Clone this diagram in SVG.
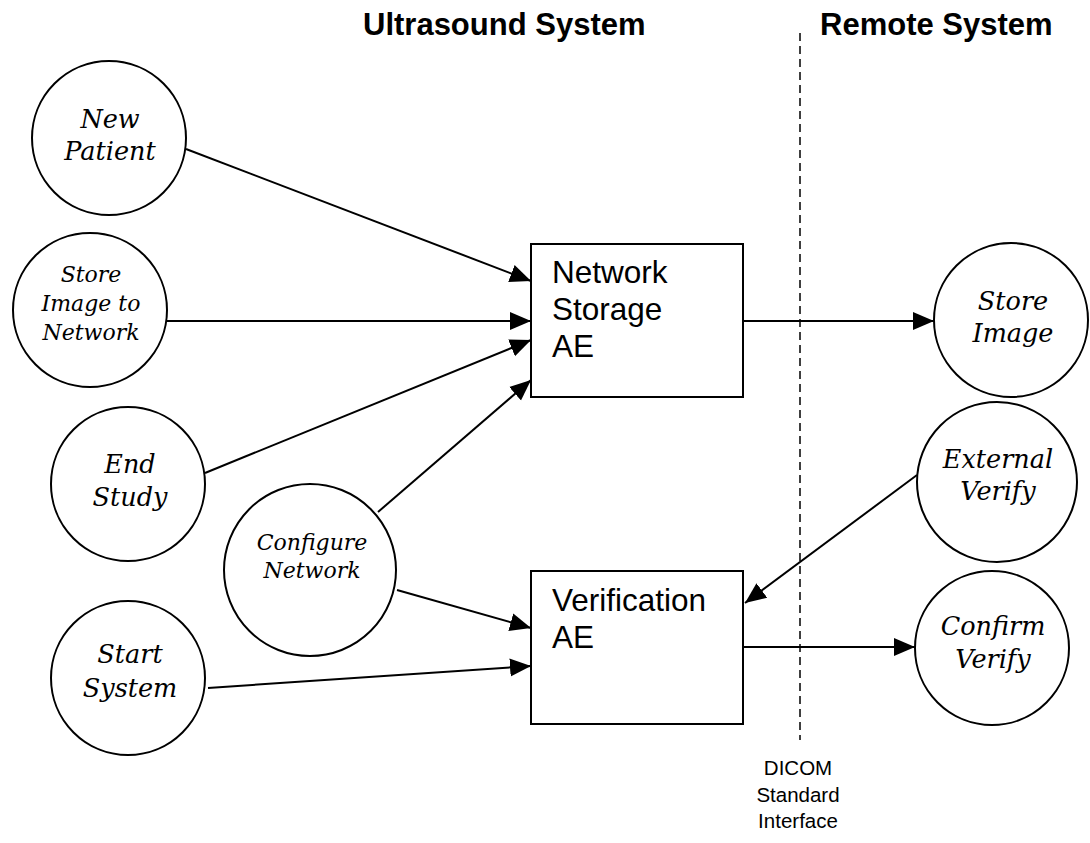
<svg xmlns="http://www.w3.org/2000/svg" width="1090" height="843" viewBox="0 0 1090 843">
<style>
.c{fill:#fff;stroke:#000;stroke-width:2}
.b{fill:#fff;stroke:#000;stroke-width:2}
.ct{font-family:"DejaVu Serif",serif;font-style:italic;fill:#000;text-anchor:middle;font-size:25.5px}
.cs{font-size:22px}
.bt{font-family:"Liberation Sans",Arial,sans-serif;font-size:31.5px;fill:#000}
.h{font-family:"Liberation Sans",Arial,sans-serif;font-size:31px;font-weight:bold;fill:#000}
.e{stroke:#000;stroke-width:2;fill:none;marker-end:url(#ah)}
.d{font-family:"Liberation Sans",Arial,sans-serif;font-size:20.5px;fill:#000;text-anchor:middle}
</style>
<defs>
<marker id="ah" markerUnits="userSpaceOnUse" markerWidth="22" markerHeight="20" refX="21" refY="9" orient="auto" viewBox="0 0 22 18">
<path d="M0,0 L21,9 L0,18 z" fill="#000"/>
</marker>
</defs>
<rect width="1090" height="843" fill="#fff"/>
<text class="h" x="363" y="35">Ultrasound System</text>
<text class="h" x="820" y="35">Remote System</text>
<line x1="800" y1="33" x2="800" y2="740" stroke="#000" stroke-width="1.5" stroke-dasharray="8,5"/>
<g id="dicom-label">
<text class="d" x="798" y="775">DICOM</text>
<text class="d" x="798" y="802">Standard</text>
<text class="d" x="798" y="828">Interface</text>
</g>
<g id="connectors">
<line class="e" x1="186" y1="149" x2="531" y2="281"/>
<line class="e" x1="167" y1="321" x2="531" y2="321"/>
<line class="e" x1="205" y1="473" x2="531" y2="340"/>
<line class="e" x1="378" y1="512" x2="531" y2="380"/>
<line class="e" x1="397" y1="590" x2="531" y2="628"/>
<line class="e" x1="208" y1="688" x2="531" y2="666"/>
<line class="e" x1="743" y1="321" x2="934" y2="321"/>
<line class="e" x1="917" y1="475" x2="745" y2="603"/>
<line class="e" x1="743" y1="647" x2="915" y2="647"/>
</g>
<g id="new-patient"><circle class="c" cx="109" cy="138" r="77"/><text class="ct" x="110" y="128">New</text><text class="ct" x="110" y="160">Patient</text></g>
<g id="store-image-to-network"><circle class="c" cx="90" cy="310" r="77"/><text class="ct cs" x="91" y="282">Store</text><text class="ct cs" x="91" y="311">Image to</text><text class="ct cs" x="91" y="340">Network</text></g>
<g id="end-study"><circle class="c" cx="128" cy="484" r="77"/><text class="ct" x="130" y="473">End</text><text class="ct" x="130" y="506">Study</text></g>
<g id="configure-network"><circle class="c" cx="310" cy="570" r="86"/><text class="ct cs" x="312" y="550">Configure</text><text class="ct cs" x="312" y="578">Network</text></g>
<g id="start-system"><circle class="c" cx="128" cy="678" r="77"/><text class="ct" x="130" y="663">Start</text><text class="ct" x="130" y="697">System</text></g>
<g id="network-storage-ae"><rect class="b" x="531" y="244" width="212" height="153"/><text class="bt" x="552" y="283">Network</text><text class="bt" x="552" y="320">Storage</text><text class="bt" x="552" y="357">AE</text></g>
<g id="verification-ae"><rect class="b" x="531" y="571" width="212" height="153"/><text class="bt" x="552" y="611">Verification</text><text class="bt" x="552" y="648">AE</text></g>
<g id="store-image"><circle class="c" cx="1011" cy="320" r="77"/><text class="ct" x="1013" y="310">Store</text><text class="ct" x="1013" y="342">Image</text></g>
<g id="external-verify"><circle class="c" cx="997" cy="482" r="80"/><text class="ct" x="998" y="468">External</text><text class="ct" x="998" y="500">Verify</text></g>
<g id="confirm-verify"><circle class="c" cx="992" cy="648" r="77"/><text class="ct" x="993" y="635">Confirm</text><text class="ct" x="993" y="668">Verify</text></g>
</svg>
